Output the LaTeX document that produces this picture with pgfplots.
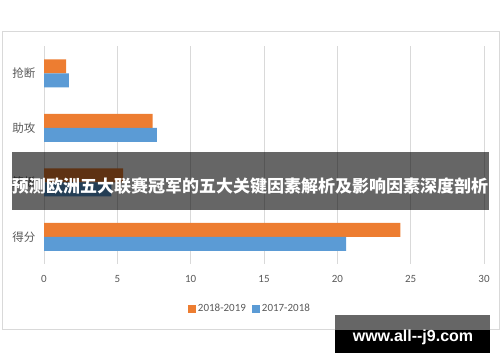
\documentclass[border=0pt]{standalone}
\usepackage{pgfplots}
\pgfplotsset{compat=1.18}
\usepackage{fontspec}
\setmainfont{Carlito}
\newfontfamily\cjk{Noto Sans CJK SC}
\newfontfamily\wm{Liberation Sans}
\definecolor{orng}{HTML}{ED7D31}
\definecolor{blu}{HTML}{5B9BD5}
\definecolor{txt}{HTML}{595959}
\definecolor{grd}{HTML}{D9D9D9}
\begin{document}
\begin{tikzpicture}[x=1pt,y=1pt]
\path[use as bounding box] (0,0) rectangle (500,362);
\draw[grd] (2,331) rectangle (499,33);
\begin{axis}[
  at={(44pt,98pt)}, anchor=south west, scale only axis,
  width=440pt, height=218pt,
  xbar, xmin=0, xmax=30, ymin=-0.5, ymax=3.5, y dir=reverse,
  bar width=14pt,
  xtick={0,5,...,30}, ytick={0,1,2,3},
  yticklabels={抢断,助攻,篮板,得分},
  axis line style={draw=none}, major tick length=0pt,
  xmajorgrids, grid style={grd, line width=0.8pt},
  /pgf/number format/assume math mode=true,
  xticklabel style={font=\fontsize{11}{13}\selectfont, text=txt, yshift=-8pt},
  yticklabel style={font=\cjk\fontsize{11.5}{13}\selectfont, text=txt, xshift=-5pt},
  legend style={at={(0.468,-0.206)}, anchor=center, draw=none, fill=none,
    legend columns=2, font=\fontsize{11}{13}\selectfont, text=txt,
    /tikz/every even column/.append style={column sep=4pt}},
]
\addplot[fill=orng, draw=none, bar shift=7pt,
  legend image code/.code={\fill[orng] (0pt,-4pt) rectangle (8pt,4pt);}]
  coordinates {(1.5,0) (7.4,1) (5.4,2) (24.3,3)};
\addlegendentry{2018-2019}
\addplot[fill=blu, draw=none, bar shift=-7pt,
  legend image code/.code={\fill[blu] (0pt,-4pt) rectangle (8pt,4pt);}]
  coordinates {(1.7,0) (7.7,1) (4.6,2) (20.6,3)};
\addlegendentry{2017-2018}
\end{axis}
\fill[black, opacity=0.6] (12,210) rectangle (489,152);
\node[text=white, font=\cjk\bfseries\fontsize{17}{17}\selectfont, inner sep=0pt] at (250,176) {预测欧洲五大联赛冠军的五大关键因素解析及影响因素深度剖析};
\fill[black!60] (335,47) rectangle (490,32);
\fill[black] (335,32) rectangle (490,9);
\node[text=white, font=\wm\bfseries\fontsize{16}{16}\selectfont, inner sep=0pt] at (413,25) {www.all--j9.com};
\end{tikzpicture}
\end{document}
